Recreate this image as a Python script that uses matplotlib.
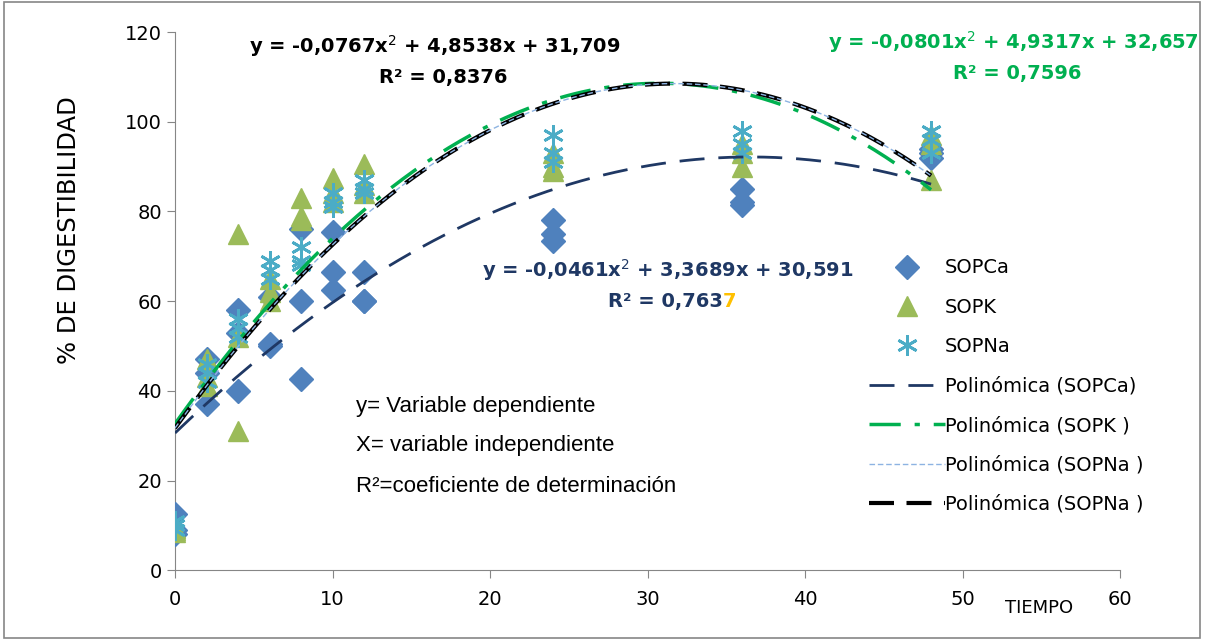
import matplotlib

matplotlib.use("Agg")
import matplotlib.pyplot as plt  # noqa: E402
import numpy as np  # noqa: E402
from matplotlib.patches import Rectangle  # noqa: E402

# -- data ---------------------------------------------------------------------

tiempo = [0, 2, 4, 6, 8, 10, 12, 24, 36, 48]

sopca = [
    [12.5, 9, 8],
    [47, 44, 37],
    [58, 53, 40],
    [61, 50.5, 50],
    [76, 60, 42.6],
    [75.5, 66.5, 62.5],
    [66.5, 60, 60],
    [78, 75, 73.5],
    [85, 82, 81.5],
    [94, 93, 92],
]
sopk = [
    [9, 9.5, 8.5],
    [47, 43, 41],
    [75, 52, 31],
    [65, 62, 60],
    [83, 79, 78],
    [87.5, 84, 82],
    [90.5, 86, 84],
    [93, 90, 89],
    [95, 93, 90],
    [97, 95, 87],
]
sopna = [
    [11, 10, 9],
    [46, 44, 42],
    [56, 54, 52],
    [69, 67, 65],
    [72, 69, 68],
    [84, 82, 81],
    [87, 85, 84],
    [97, 93, 91],
    [98, 95, 93],
    [98, 96, 93],
]

# polynomial trend coefficients as printed on the chart (a, b, c)
coef_ca = [-0.0461, 3.3689, 30.591]
coef_k = [-0.0801, 4.9317, 32.657]
coef_na = [-0.0767, 4.8538, 31.709]

c_ca = "#4f81bd"
c_k = "#9bbb59"
c_na = "#4bacc6"
c_dark = "#1f3864"
c_green = "#00b050"


def _xy(rows):
    xs, ys = [], []
    for t, vals in zip(tiempo, rows):
        for v in vals:
            xs.append(t)
            ys.append(v)
    return xs, ys


fig = plt.figure(figsize=(12.07, 6.40), dpi=100)
ax = fig.add_axes([0.145, 0.109, 0.783, 0.841])

x, y = _xy(sopca)
ax.plot(x, y, ls="none", marker="D", ms=12, color=c_ca, label="SOPCa", zorder=3)
x, y = _xy(sopk)
ax.plot(x, y, ls="none", marker="^", ms=14, color=c_k, label="SOPK", zorder=3)
x, y = _xy(sopna)
ax.plot(x, y, ls="none", marker=(6, 2, 0), ms=15, mew=2, color=c_na,
        label="SOPNa", zorder=3)

xt = np.linspace(0, max(tiempo), 200)
ax.plot(xt, np.polyval(coef_ca, xt), color=c_dark, lw=2, dashes=(9, 5),
        label="Polinómica (SOPCa)", zorder=4)
ax.plot(xt, np.polyval(coef_k, xt), color=c_green, lw=2.5, dashes=(9, 4, 1.5, 4),
        label="Polinómica (SOPK )", zorder=4)
ax.plot(xt, np.polyval(coef_na, xt), color="#8db3e2", lw=1, dashes=(4, 2),
        label="Polinómica (SOPNa )", zorder=5)
ax.plot(xt, np.polyval(coef_na, xt), color="black", lw=3, dashes=(6, 3),
        label="Polinómica (SOPNa )", zorder=4)

ax.set_xlim(0, 60)
ax.set_ylim(0, 120)
ax.set_xticks(range(0, 61, 10))
ax.set_yticks(range(0, 121, 20))
for s in ("top", "right"):
    ax.spines[s].set_visible(False)
for s in ("left", "bottom"):
    ax.spines[s].set_color("#868686")
ax.tick_params(colors="#868686", labelcolor="black", labelsize=14, length=6)
ax.tick_params(axis="x", pad=8)
ax.set_ylabel("% DE DIGESTIBILIDAD", fontsize=17.5)
ax.yaxis.set_label_coords(-0.100, 0.632)
ax.text(52.7, -8.5, "TIEMPO", fontsize=13, ha="left", va="center", clip_on=False)

ax.legend(loc="upper left", bbox_to_anchor=(0.716, 0.612), frameon=False,
          fontsize=14, handlelength=3.9, labelspacing=1.05, handletextpad=0.0)

# equations
ax.text(16.5, 116.8, "y = -0,0767x$^2$ + 4,8538x + 31,709", fontsize=14,
        fontweight="bold", ha="center", va="center")
ax.text(17.0, 109.8, "R² = 0,8376", fontsize=14, fontweight="bold",
        ha="center", va="center")
ax.text(65.0, 117.8, "y = -0,0801x$^2$ + 4,9317x + 32,657", fontsize=14,
        fontweight="bold", color=c_green, ha="right", va="center", clip_on=False)
ax.text(53.5, 110.8, "R² = 0,7596", fontsize=14, fontweight="bold",
        color=c_green, ha="center", va="center", clip_on=False)
ax.text(31.3, 67.0, "y = -0,0461x$^2$ + 3,3689x + 30,591", fontsize=14,
        fontweight="bold", color=c_dark, ha="center", va="center")
t = ax.text(27.5, 60.0, "R² = 0,763", fontsize=14, fontweight="bold",
            color=c_dark, ha="left", va="center")
ax.annotate("7", xycoords=t, xy=(1, 0.5), va="center", ha="left",
            fontsize=14, fontweight="bold", color="#ffc000")

ax.text(11.5, 36.5, "y= Variable dependiente", fontsize=16,
        family="Liberation Sans", va="center")
ax.text(11.5, 27.8, "X= variable independiente", fontsize=16,
        family="Liberation Sans", va="center")
ax.text(11.5, 18.6, "R²=coeficiente de determinación", fontsize=16,
        family="Liberation Sans", va="center")

fig.patches.append(Rectangle((0.003, 0.003), 0.991, 0.994, transform=fig.transFigure,
                             fill=False, edgecolor="#868686", lw=1.2))

fig.savefig("out.png", dpi=100)
plt.close(fig)
